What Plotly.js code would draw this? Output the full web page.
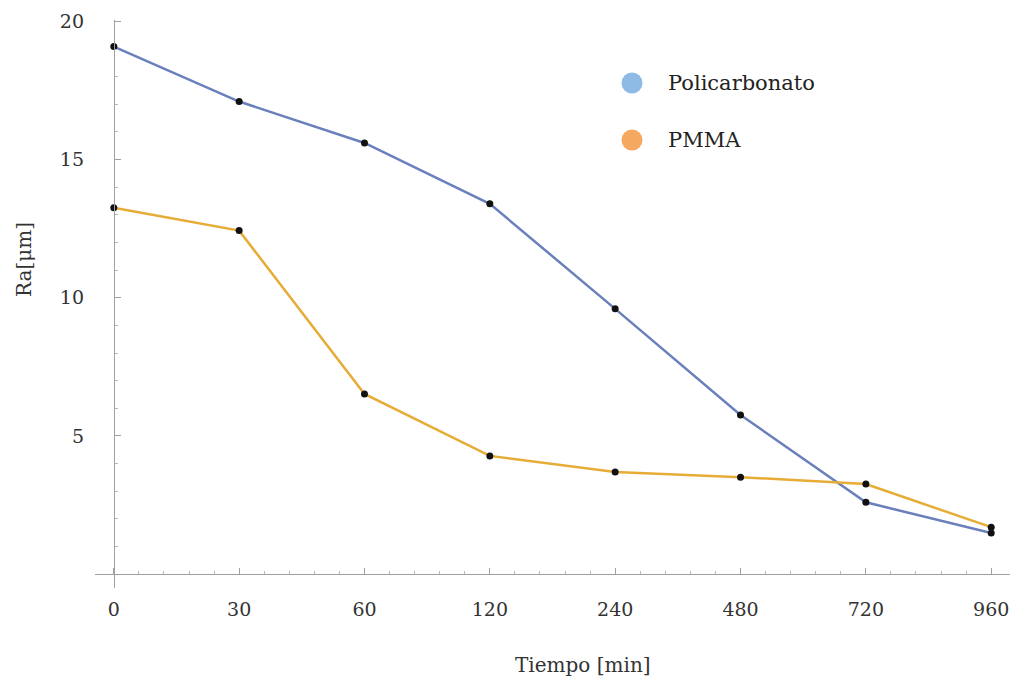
<!DOCTYPE html>
<html>
<head>
<meta charset="utf-8">
<script src="https://cdn.plot.ly/plotly-3.0.1.min.js"></script>
<style>html,body{margin:0;padding:0;background:#fff;}#chart{width:1015px;height:679px;}</style>
</head>
<body>
<div id="chart"></div>
<script>
// Data
const timeLabels = ["0", "30", "60", "120", "240", "480", "720", "960"];
const seriesNames = ["Policarbonato", "PMMA"];
const policarbonato = [19.09, 17.1, 15.6, 13.4, 9.6, 5.76, 2.6, 1.49];
const pmma = [13.26, 12.43, 6.52, 4.28, 3.7, 3.51, 3.26, 1.7];
const lineColors = ["#6A80BC", "#E6AC36"];
const legendColors = ["#8DBBE6", "#F5A860"];

const xIdx = timeLabels.map((_, i) => i);
const font = "DejaVu Serif, Liberation Serif, serif";

function trace(y, name, color) {
  return {
    x: xIdx, y: y, name: name, type: "scatter", mode: "lines+markers",
    line: {color: color, width: 2.5},
    marker: {color: "#111", size: 7},
    showlegend: false, cliponaxis: false
  };
}

const data = [
  trace(policarbonato, seriesNames[0], lineColors[0]),
  trace(pmma, seriesNames[1], lineColors[1])
];

const xr = [-0.15, 7.15];
const yr = [-0.5, 20.05];

const shapes = [];
const annotations = [];
// legend in pixel-derived paper coordinates (domain: x 95..1010, y 20..588)
const legPos = [{cx: 632, cy: 83}, {cx: 632, cy: 140}];
legPos.forEach((p, i) => {
  const px = (p.cx - 95) / 915;
  const py = 1 - (p.cy - 20) / 568;
  const rx = 10.5 / 915, ry = 10.5 / 568;
  shapes.push({type: "circle", xref: "paper", yref: "paper",
    x0: px - rx, x1: px + rx, y0: py - ry, y1: py + ry,
    fillcolor: legendColors[i], line: {width: 0}});
  annotations.push({xref: "paper", yref: "paper", x: (666 - 95) / 915, y: py,
    xanchor: "left", yanchor: "middle", showarrow: false,
    text: seriesNames[i], font: {family: font, size: 21, color: "#222"}});
});
annotations.push({xref: "paper", yref: "paper", x: (583 - 95) / 915, y: 1 - (665 - 20) / 568,
  xanchor: "center", yanchor: "middle", showarrow: false,
  text: "Tiempo [min]", font: {family: font, size: 20, color: "#333"}});
annotations.push({xref: "paper", yref: "paper", x: (24 - 95) / 915, y: 1 - (260 - 20) / 568,
  xanchor: "center", yanchor: "middle", showarrow: false, textangle: -90,
  text: "Ra[μm]", font: {family: font, size: 20, color: "#333"}});

const layout = {
  width: 1015, height: 679,
  margin: {l: 95, r: 5, t: 20, b: 91},
  paper_bgcolor: "#fff", plot_bgcolor: "#fff",
  showlegend: false,
  font: {family: font},
  xaxis: {
    type: "linear", range: xr, tickmode: "array", tickvals: xIdx, ticktext: timeLabels,
    showgrid: false, zeroline: false, showline: true, linecolor: "#a0a0a0", linewidth: 1,
    ticks: "inside", ticklen: 6, tickcolor: "#a0a0a0", tickwidth: 1,
    ticklabelstandoff: 18,
    tickfont: {family: font, size: 19, color: "#333"},
    minor: {dtick: 0.2, tick0: 0, ticks: "inside", ticklen: 3, tickcolor: "#b8b8b8", showgrid: false},
    anchor: "free", position: (0 - yr[0]) / (yr[1] - yr[0]),
    fixedrange: true
  },
  yaxis: {
    range: yr, tickmode: "array", tickvals: [5, 10, 15, 20],
    showgrid: false, zeroline: false, showline: true, linecolor: "#a0a0a0", linewidth: 1,
    ticks: "inside", ticklen: 6, tickcolor: "#a0a0a0", tickwidth: 1,
    ticklabelstandoff: 26,
    tickfont: {family: font, size: 19, color: "#333"},
    minor: {tickvals: [1,2,3,4,6,7,8,9,11,12,13,14,16,17,18,19], ticks: "inside", ticklen: 3, tickcolor: "#b8b8b8", showgrid: false},
    anchor: "free", position: (0 - xr[0]) / (xr[1] - xr[0]),
    fixedrange: true
  },
  shapes: shapes,
  annotations: annotations
};

Plotly.newPlot("chart", data, layout, {displayModeBar: false, staticPlot: true});
</script>
</body>
</html>
